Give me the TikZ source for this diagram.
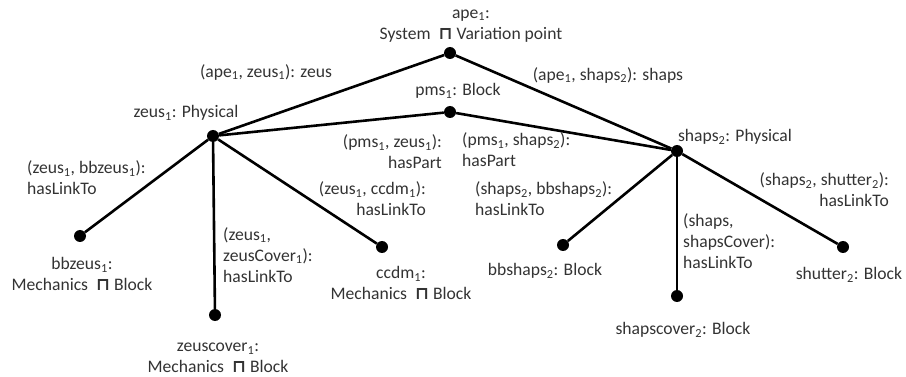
\documentclass[tikz,border=0pt]{standalone}
\usepackage{fontspec}
\setmainfont{Carlito}
\newfontfamily\opfont{DejaVu Sans}
\usetikzlibrary{positioning}
\newcommand{\ix}[1]{\textsubscript{#1}}
\newcommand{\meet}{\ {\opfont\bfseries ⊓}\ }
\tikzset{
  dot/.style={circle,fill=black,inner sep=0pt,minimum size=12pt},
  link/.style={line width=2.6pt,draw=black},
  lbl/.style={align=center,inner sep=0pt,font=\fontsize{17.6}{21}\selectfont,text=black!80},
  lblw/.style={lbl,align=left,anchor=west},
  lble/.style={lbl,align=right,anchor=east}
}

\begin{document}
\begin{tikzpicture}[x=1pt,y=-1pt]
  \useasboundingbox (0,0) rectangle (906,377);
  % individuals
  \node[dot] (ape) at (450,53) {};
  \node[dot] (pms) at (450,112) {};
  \node[dot] (zeus) at (213,136) {};
  \node[dot] (shaps) at (677,151) {};
  \node[dot] (bbzeus) at (80,236) {};
  \node[dot] (zeuscover) at (215,315) {};
  \node[dot] (ccdm) at (382,247) {};
  \node[dot] (bbshaps) at (563,245) {};
  \node[dot] (shapscover) at (677,296) {};
  \node[dot] (shutter) at (843,247) {};

  % links
  \draw[link] (ape) -- (zeus);
  \draw[link] (ape) -- (shaps);
  \draw[link] (pms) -- (zeus);
  \draw[link] (pms) -- (shaps);
  \draw[link] (zeus) -- (bbzeus);
  \draw[link] (zeus) -- (zeuscover);
  \draw[link] (zeus) -- (ccdm);
  \draw[link] (shaps) -- (bbshaps);
  \draw[link] (shaps) -- (shapscover);
  \draw[link] (shaps) -- (shutter);

  % concept labels
  \node[lbl] (apelab) at (471,26) {ape\ix1:\\System \meet Variation point};
  \node[lbl] (pmslab) at (458,91) {pms\ix1: Block};
  \node[lbl] (zeuslab) at (186,113) {zeus\ix1: Physical};
  \node[lbl] (shapslab) at (735,137) {shaps\ix2: Physical};
  \node[lbl] (bbzeuslab) at (82,274) {bbzeus\ix1:\\Mechanics \meet Block};
  \node[lbl] (zeuscoverlab) at (218,358) {zeuscover\ix1:\\Mechanics \meet Block};
  \node[lbl] (ccdmlab) at (401,283) {ccdm\ix1:\\Mechanics \meet Block};
  \node[lbl] (bbshapslab) at (545,271) {bbshaps\ix2: Block};
  \node[lbl] (shapscoverlab) at (683,330) {shapscover\ix2: Block};
  \node[lbl] (shutterlab) at (849,275) {shutter\ix2: Block};

  % role labels
  \node[lbl] (r1) at (266,72) {(ape\ix1, zeus\ix1): zeus};
  \node[lbl] (r2) at (608,75) {(ape\ix1, shaps\ix2): shaps};
  \node[lble] (r3) at (442,152) {(pms\ix1, zeus\ix1):\\hasPart};
  \node[lblw] (r4) at (462,150) {(pms\ix1, shaps\ix2):\\hasPart};
  \node[lblw] (r5) at (27,178) {(zeus\ix1, bbzeus\ix1):\\hasLinkTo};
  \node[lblw] (r6) at (223,255) {(zeus\ix1,\\zeusCover\ix1):\\hasLinkTo};
  \node[lble] (r7) at (426,199) {(zeus\ix1, ccdm\ix1):\\hasLinkTo};
  \node[lblw] (r8) at (475,199) {(shaps\ix2, bbshaps\ix2):\\hasLinkTo};
  \node[lblw] (r9) at (683,241) {(shaps,\\shapsCover):\\hasLinkTo};
  \node[lble] (r10) at (889,190) {(shaps\ix2, shutter\ix2):\\hasLinkTo};
\end{tikzpicture}
\end{document}
